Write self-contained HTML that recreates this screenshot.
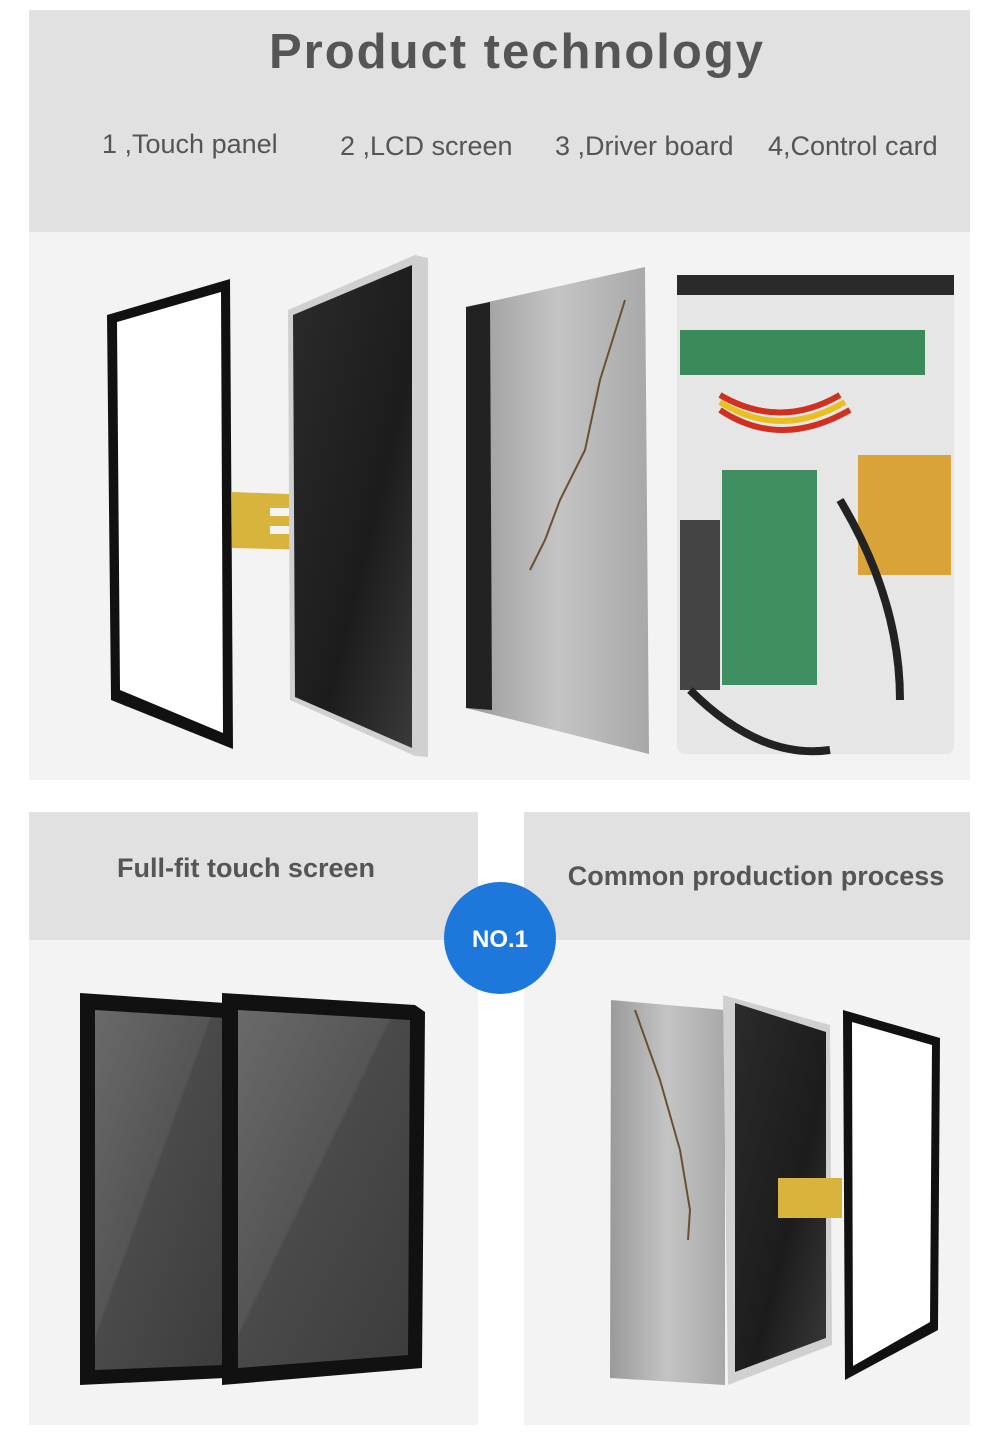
<!DOCTYPE html>
<html><head><meta charset="utf-8"><style>
html,body{margin:0;padding:0;background:#fff;}
svg{display:block;}
text{font-family:"Liberation Sans",Arial,sans-serif;}
</style></head><body>
<svg width="1001" height="1445" viewBox="0 0 1001 1445" xmlns="http://www.w3.org/2000/svg">
<defs>
<linearGradient id="lcd" x1="0" y1="0" x2="1" y2="1"><stop offset="0" stop-color="#2b2b2b"/><stop offset="0.6" stop-color="#1c1c1c"/><stop offset="1" stop-color="#3a3a3a"/></linearGradient>
<linearGradient id="grayp" x1="0" y1="0" x2="1" y2="0"><stop offset="0" stop-color="#9a9a9a"/><stop offset="0.5" stop-color="#c4c4c4"/><stop offset="1" stop-color="#a8a8a8"/></linearGradient>
<linearGradient id="scr" x1="0" y1="0" x2="1" y2="1"><stop offset="0" stop-color="#6a6a6a"/><stop offset="0.45" stop-color="#555"/><stop offset="0.46" stop-color="#4a4a4a"/><stop offset="1" stop-color="#3c3c3c"/></linearGradient>
</defs>
<rect width="1001" height="1445" fill="#fff"/>
<rect x="29" y="10" width="941" height="222" fill="#e1e1e1"/>
<rect x="29" y="232" width="941" height="548" fill="#f3f3f3"/>
<text x="517" y="68" text-anchor="middle" font-size="49" font-weight="bold" fill="#555" letter-spacing="2">Product technology</text>
<g font-size="27" fill="#555">
<text x="102" y="153">1 ,Touch panel</text>
<text x="340" y="155">2 ,LCD screen</text>
<text x="555" y="155">3 ,Driver board</text>
<text x="768" y="155">4,Control card</text>
</g>
<polygon points="107,315 230,279 233,749 111,700" fill="#111"/>
<polygon points="117,322 221,292 223,733 120,690" fill="#fff"/>
<polygon points="232,492 315,495 314,550 232,548" fill="#d8b43c"/>
<rect x="270" y="508" width="40" height="8" fill="#f3f3f3"/><rect x="270" y="526" width="40" height="8" fill="#f3f3f3"/>
<polygon points="288,310 415,255 428,258 428,757 415,756 290,700" fill="#d0d0d0"/>
<polygon points="293,315 412,265 412,748 295,697" fill="url(#lcd)"/>
<polygon points="466,307 645,267 649,754 466,708" fill="url(#grayp)"/>
<polygon points="466,307 490,302 492,710 466,708" fill="#222"/>
<polyline points="625,300 600,380 585,450 560,500 545,540 530,570" fill="none" stroke="#6a5030" stroke-width="2"/>
<rect x="677" y="275" width="277" height="479" rx="8" fill="#e6e6e6"/>
<rect x="677" y="275" width="277" height="20" fill="#2a2a2a"/>
<rect x="680" y="330" width="245" height="45" fill="#3a8a5a"/>
<rect x="722" y="470" width="95" height="215" fill="#3f8f62"/>
<rect x="858" y="455" width="93" height="120" fill="#d9a33a"/>
<path d="M720,395 Q780,430 840,395 M720,410 Q780,450 850,410" stroke="#d03020" stroke-width="6" fill="none"/>
<path d="M720,402 Q780,440 845,402" stroke="#e8c020" stroke-width="6" fill="none"/>
<rect x="680" y="520" width="40" height="170" fill="#444"/>
<path d="M690,690 Q760,760 830,750 M840,500 Q900,600 900,700" stroke="#222" stroke-width="8" fill="none"/>
<rect x="29" y="812" width="449" height="128" fill="#e1e1e1"/>
<rect x="29" y="940" width="449" height="485" fill="#f3f3f3"/>
<text x="246" y="877" text-anchor="middle" font-size="27" font-weight="bold" fill="#555">Full-fit touch screen</text>
<polygon points="80,993 225,1003 225,1378 80,1385" fill="#111"/>
<polygon points="95,1010 225,1018 225,1365 95,1370" fill="url(#scr)"/>
<polygon points="222,993 415,1005 425,1012 422,1368 222,1385" fill="#111"/>
<polygon points="238,1010 410,1020 408,1355 238,1368" fill="url(#scr)"/>
<rect x="524" y="812" width="446" height="128" fill="#e1e1e1"/>
<rect x="524" y="940" width="446" height="485" fill="#f3f3f3"/>
<text x="756" y="885" text-anchor="middle" font-size="27" font-weight="bold" fill="#555">Common production process</text>
<polygon points="611,1000 725,1010 725,1385 610,1378" fill="url(#grayp)"/>
<polyline points="635,1010 660,1080 680,1150 690,1210 688,1240" fill="none" stroke="#6a5030" stroke-width="2"/>
<polygon points="723,995 830,1025 832,1345 728,1385" fill="#d0d0d0"/>
<polygon points="735,1003 826,1032 826,1338 735,1372" fill="url(#lcd)"/>
<polygon points="778,1178 842,1178 842,1218 778,1218" fill="#d8b43c"/>
<polygon points="843,1010 940,1038 938,1330 845,1380" fill="#111"/>
<polygon points="852,1022 932,1045 930,1322 853,1366" fill="#fff"/>
<circle cx="500" cy="938" r="56" fill="#1e78dc"/>
<text x="500" y="947" text-anchor="middle" font-size="24" font-weight="bold" fill="#fff">NO.1</text>
</svg>
</body></html>
